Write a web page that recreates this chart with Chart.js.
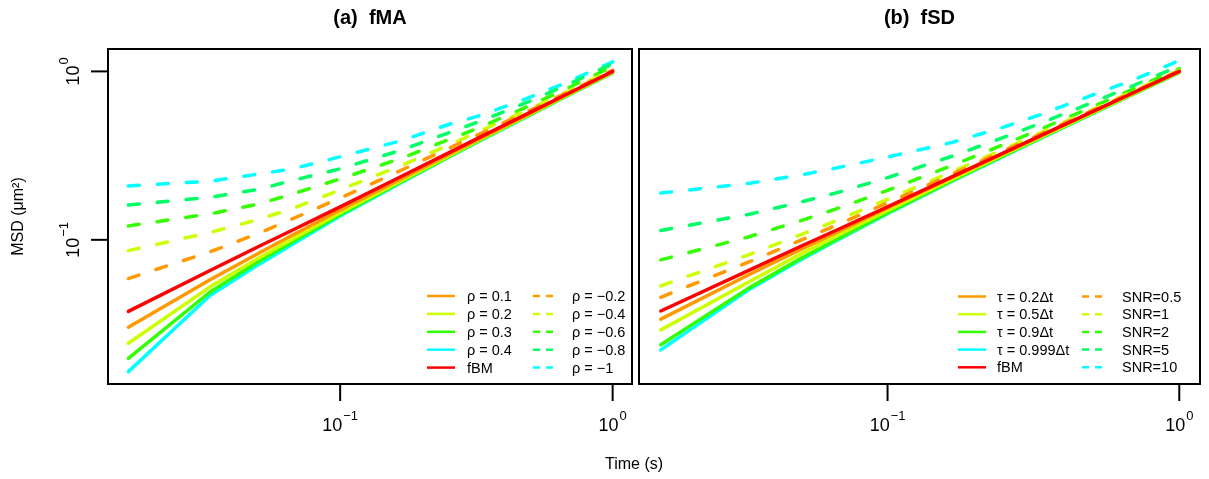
<!DOCTYPE html>
<html>
<head>
<meta charset="utf-8">
<script src="https://cdn.jsdelivr.net/npm/chart.js@4.4.1/dist/chart.umd.min.js"></script>
<style>
html,body{margin:0;padding:0;background:#fff;}
#wrap{position:relative;width:1209px;height:479px;overflow:hidden;background:#fff;}
canvas{position:absolute;left:0;top:0;}
</style>
</head>
<body>
<div id="wrap">
<canvas id="c1" width="1209" height="479"></canvas>
<canvas id="c2" width="1209" height="479"></canvas>
</div>
<script>
// ---- data ----
const TIME = [0.0167, 0.0333, 0.05, 0.0667, 0.1, 0.1667, 0.25, 0.3333, 0.5, 0.6667, 1.0];

const X_TICKS = [0.1, 1];
const Y_TICKS = [0.1, 1];
const TICK_LABELS = [["10", "\u22121"], ["10", "0"]];

// (a) fMA
const FMA_FBM     = [0.0376, 0.0657, 0.0910, 0.1140, 0.157, 0.237, 0.328, 0.414, 0.573, 0.722, 1.000];
const FMA_RHO_P01 = [0.0303, 0.0580, 0.0830, 0.1064, 0.150, 0.229, 0.320, 0.406, 0.565, 0.714, 0.992];
const FMA_RHO_P02 = [0.0243, 0.0526, 0.0778, 0.1010, 0.145, 0.224, 0.315, 0.401, 0.560, 0.709, 0.987];
const FMA_RHO_P03 = [0.0198, 0.0490, 0.0740, 0.0970, 0.141, 0.220, 0.311, 0.397, 0.556, 0.705, 0.982];
const FMA_RHO_P04 = [0.0165, 0.0467, 0.0710, 0.0938, 0.1385, 0.2175, 0.309, 0.394, 0.553, 0.702, 0.978];
const FMA_RHO_N02 = [0.0589, 0.0849, 0.109, 0.133, 0.177, 0.258, 0.349, 0.433, 0.590, 0.738, 1.014];
const FMA_RHO_N04 = [0.0863, 0.1105, 0.132, 0.153, 0.198, 0.275, 0.365, 0.450, 0.600, 0.747, 1.030];
const FMA_RHO_N06 = [0.121, 0.1426, 0.163, 0.187, 0.230, 0.304, 0.393, 0.473, 0.630, 0.780, 1.070];
const FMA_RHO_N08 = [0.161, 0.179, 0.199, 0.225, 0.264, 0.340, 0.432, 0.512, 0.669, 0.820, 1.110];
const FMA_RHO_N10 = [0.209, 0.223, 0.2455, 0.264, 0.311, 0.387, 0.484, 0.553, 0.705, 0.850, 1.140];

// (b) fSD
const FSD_FBM      = [0.0378, 0.0657, 0.0910, 0.1140, 0.157, 0.237, 0.328, 0.414, 0.573, 0.722, 1.000];
const FSD_TAU_02   = [0.0338, 0.0618, 0.0871, 0.1104, 0.1545, 0.2345, 0.326, 0.411, 0.570, 0.719, 0.996];
const FSD_TAU_05   = [0.0292, 0.0560, 0.0820, 0.1055, 0.1495, 0.2295, 0.321, 0.406, 0.565, 0.714, 0.991];
const FSD_TAU_09   = [0.0238, 0.0515, 0.0770, 0.1002, 0.1443, 0.2243, 0.316, 0.401, 0.560, 0.709, 0.986];
const FSD_TAU_0999 = [0.0222, 0.0503, 0.0755, 0.0988, 0.1429, 0.2229, 0.314, 0.399, 0.558, 0.707, 0.984];
const FSD_SNR_05   = [0.0456, 0.0736, 0.0989, 0.122, 0.166, 0.246, 0.338, 0.423, 0.582, 0.731, 1.008];
const FSD_SNR_1    = [0.0533, 0.0813, 0.1066, 0.130, 0.174, 0.254, 0.3455, 0.4305, 0.5895, 0.7385, 1.0155];
const FSD_SNR_2    = [0.0760, 0.104, 0.1293, 0.1526, 0.1967, 0.2767, 0.368, 0.453, 0.612, 0.761, 1.038];
const FSD_SNR_5    = [0.1135, 0.1415, 0.167, 0.190, 0.234, 0.314, 0.406, 0.491, 0.650, 0.799, 1.076];
const FSD_SNR_10   = [0.1895, 0.216, 0.242, 0.267, 0.310, 0.379, 0.467, 0.553, 0.720, 0.865, 1.158];

// ---- styles ----
const C_RED = '#FF0000', C_ORANGE = '#FF9900', C_YELLOW = '#CCFF00',
      C_GREEN = '#33FF00', C_TEAL = '#00FF66', C_CYAN = '#00FFFF';
const FONT = '"Liberation Sans", Arial, Helvetica, sans-serif';

const X_MIN = 0.01406, X_MAX = 1.1778;
const Y_MIN = 0.013932, Y_MAX = 1.3583;

function ds(label, values, color, dashed, order) {
  return {
    label: label,
    data: TIME.map((t, i) => ({ x: t, y: values[i] })),
    borderColor: color,
    backgroundColor: color,
    borderWidth: 3.5,
    borderDash: dashed ? [11, 18] : [],
    borderCapStyle: 'round',
    borderJoinStyle: 'round',
    pointRadius: 0,
    pointHoverRadius: 0,
    fill: false,
    tension: 0,
    order: order,
    isDashed: dashed
  };
}

function drawPow(ctx, lbl, cx, baseline) {
  ctx.font = '18px ' + FONT;
  const w1 = ctx.measureText(lbl[0]).width;
  ctx.font = '13px ' + FONT;
  const w2 = ctx.measureText(lbl[1]).width;
  const x0 = cx - (w1 + w2 + 1) / 2;
  ctx.textAlign = 'left';
  ctx.textBaseline = 'alphabetic';
  ctx.font = '18px ' + FONT;
  ctx.fillText(lbl[0], x0, baseline);
  ctx.font = '13px ' + FONT;
  ctx.fillText(lbl[1], x0 + w1 + 1, baseline - 11);
}

const decor = {
  id: 'decor',
  afterDraw(chart, args, opts) {
    const ctx = chart.ctx, a = chart.chartArea;
    const xs = chart.scales.x, ys = chart.scales.y;
    ctx.save();
    ctx.setLineDash([]);
    ctx.strokeStyle = '#000';
    ctx.fillStyle = '#000';
    ctx.lineWidth = 2;
    ctx.strokeRect(a.left, a.top, a.right - a.left, a.bottom - a.top);

    X_TICKS.forEach((v, i) => {
      const px = xs.getPixelForValue(v);
      ctx.beginPath(); ctx.moveTo(px, a.bottom); ctx.lineTo(px, a.bottom + 17); ctx.stroke();
      drawPow(ctx, TICK_LABELS[i], px, 431);
    });

    if (opts.showY) {
      Y_TICKS.forEach((v, i) => {
        const py = ys.getPixelForValue(v);
        ctx.beginPath(); ctx.moveTo(a.left, py); ctx.lineTo(a.left - 17, py); ctx.stroke();
        ctx.save();
        ctx.translate(78.5, py);
        ctx.rotate(-Math.PI / 2);
        drawPow(ctx, TICK_LABELS[i], 0, 0);
        ctx.restore();
      });
      ctx.save();
      ctx.translate(23, (a.top + a.bottom) / 2);
      ctx.rotate(-Math.PI / 2);
      ctx.font = '16px ' + FONT;
      ctx.textAlign = 'center';
      ctx.textBaseline = 'alphabetic';
      ctx.fillText('MSD (\u03BCm\u00B2)', 0, 0);
      ctx.restore();
      ctx.font = '16px ' + FONT;
      ctx.textAlign = 'center';
      ctx.textBaseline = 'alphabetic';
      ctx.fillText('Time (s)', 634, 469);
    }

    ctx.font = 'bold 20px ' + FONT;
    ctx.textAlign = 'center';
    ctx.textBaseline = 'alphabetic';
    ctx.fillText(opts.title, (a.left + a.right) / 2, 24);

    // legend (two columns: solid, dashed)
    const L = opts.legend;
    const sets = chart.data.datasets;
    const cols = [L.solid, L.dashed];
    cols.forEach((col, ci) => {
      col.labels.forEach((lab, ri) => {
        const d = sets.find(s => s.label === lab);
        const y = L.y0 + L.dy * ri;
        ctx.strokeStyle = d.borderColor;
        ctx.lineWidth = 2.5;
        ctx.lineCap = 'butt';
        ctx.setLineDash(d.isDashed ? [7, 6] : []);
        ctx.beginPath(); ctx.moveTo(col.x0, y); ctx.lineTo(col.x1, y); ctx.stroke();
        ctx.setLineDash([]);
        ctx.fillStyle = '#000';
        ctx.font = '14.5px ' + FONT;
        ctx.textAlign = 'left';
        ctx.textBaseline = 'middle';
        ctx.fillText(lab, col.tx, y + 1);
      });
    });
    ctx.restore();
  }
};

function makeChart(id, datasets, pad, opts) {
  return new Chart(document.getElementById(id), {
    type: 'line',
    data: { datasets: datasets },
    options: {
      responsive: false,
      animation: false,
      devicePixelRatio: 1,
      parsing: true,
      layout: { padding: pad },
      plugins: { legend: { display: false }, tooltip: { enabled: false }, title: { display: false }, decor: opts },
      events: [],
      scales: {
        x: { type: 'logarithmic', display: false, min: X_MIN, max: X_MAX, bounds: 'data' },
        y: { type: 'logarithmic', display: false, min: Y_MIN, max: Y_MAX, bounds: 'data' }
      }
    },
    plugins: [decor]
  });
}

const R = (v) => '\u03C1 = ' + v;
const T = (v) => '\u03C4 = ' + v + '\u0394t';

const fmaSets = [
  ds('fBM', FMA_FBM, C_RED, false, 0),
  ds(R('0.1'), FMA_RHO_P01, C_ORANGE, false, 1),
  ds(R('0.2'), FMA_RHO_P02, C_YELLOW, false, 2),
  ds(R('0.3'), FMA_RHO_P03, C_GREEN, false, 3),
  ds(R('0.4'), FMA_RHO_P04, C_CYAN, false, 4),
  ds(R('\u22120.2'), FMA_RHO_N02, C_ORANGE, true, 5),
  ds(R('\u22120.4'), FMA_RHO_N04, C_YELLOW, true, 6),
  ds(R('\u22120.6'), FMA_RHO_N06, C_GREEN, true, 7),
  ds(R('\u22120.8'), FMA_RHO_N08, C_TEAL, true, 8),
  ds(R('\u22121'), FMA_RHO_N10, C_CYAN, true, 9)
];

const fsdSets = [
  ds('fBM', FSD_FBM, C_RED, false, 0),
  ds(T('0.2'), FSD_TAU_02, C_ORANGE, false, 1),
  ds(T('0.5'), FSD_TAU_05, C_YELLOW, false, 2),
  ds(T('0.9'), FSD_TAU_09, C_GREEN, false, 3),
  ds(T('0.999'), FSD_TAU_0999, C_CYAN, false, 4),
  ds('SNR=0.5', FSD_SNR_05, C_ORANGE, true, 5),
  ds('SNR=1', FSD_SNR_1, C_YELLOW, true, 6),
  ds('SNR=2', FSD_SNR_2, C_GREEN, true, 7),
  ds('SNR=5', FSD_SNR_5, C_TEAL, true, 8),
  ds('SNR=10', FSD_SNR_10, C_CYAN, true, 9)
];

makeChart('c1', fmaSets, { left: 108, right: 577, top: 49, bottom: 95 }, {
  title: '(a)  fMA', showY: true,
  legend: {
    y0: 296, dy: 17.9,
    solid: { x0: 427, x1: 455, tx: 467, labels: [R('0.1'), R('0.2'), R('0.3'), R('0.4'), 'fBM'] },
    dashed: { x0: 533, x1: 554, tx: 572, labels: [R('\u22120.2'), R('\u22120.4'), R('\u22120.6'), R('\u22120.8'), R('\u22121')] }
  }
});

makeChart('c2', fsdSets, { left: 639, right: 9, top: 49, bottom: 95 }, {
  title: '(b)  fSD', showY: false,
  legend: {
    y0: 296.5, dy: 17.7,
    solid: { x0: 958, x1: 986, tx: 997, labels: [T('0.2'), T('0.5'), T('0.9'), T('0.999'), 'fBM'] },
    dashed: { x0: 1082, x1: 1103, tx: 1122, labels: ['SNR=0.5', 'SNR=1', 'SNR=2', 'SNR=5', 'SNR=10'] }
  }
});
</script>
</body>
</html>
